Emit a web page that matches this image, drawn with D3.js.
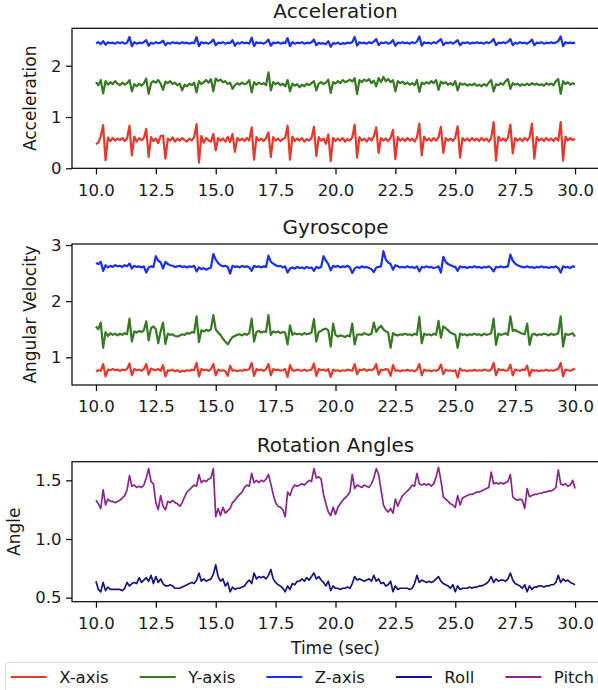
<!DOCTYPE html>
<html>
<head>
<meta charset="utf-8">
<script src="https://cdn.jsdelivr.net/npm/d3@7"></script>
<style>
body{margin:0;background:#fff;}
text{font-family:"DejaVu Sans",sans-serif;fill:#1a1a1a;}
</style>
</head>
<body>
<div id="chart"></div>
<script>
// sample times, 10 Hz from 10 s to 30 s
var time = d3.range(201).map(function(i){return 10 + i/10;});

var accelX = [
0.47,0.50,0.62,0.84,0.16,0.60,0.53,0.59,0.54,0.58,
0.55,0.59,0.53,0.58,0.83,0.25,0.62,0.52,0.59,0.55,
0.59,0.77,0.22,0.61,0.53,0.58,0.49,0.63,0.64,0.19,
0.58,0.54,0.60,0.52,0.58,0.54,0.59,0.55,0.52,0.58,
0.54,0.61,0.86,0.11,0.63,0.50,0.59,0.54,0.52,0.67,
0.35,0.59,0.54,0.58,0.52,0.61,0.51,0.67,0.32,0.59,
0.54,0.58,0.53,0.59,0.54,0.80,0.17,0.61,0.54,0.58,
0.53,0.59,0.70,0.22,0.61,0.54,0.58,0.53,0.57,0.59,
0.83,0.17,0.62,0.53,0.58,0.54,0.59,0.52,0.57,0.54,
0.59,0.81,0.24,0.61,0.54,0.58,0.48,0.66,0.14,0.59,
0.53,0.58,0.54,0.59,0.52,0.57,0.54,0.60,0.85,0.21,
0.61,0.54,0.58,0.52,0.59,0.54,0.62,0.80,0.30,0.59,
0.54,0.58,0.53,0.59,0.75,0.18,0.61,0.54,0.58,0.53,
0.59,0.54,0.58,0.52,0.60,0.87,0.25,0.62,0.54,0.58,
0.53,0.59,0.54,0.60,0.81,0.30,0.59,0.54,0.58,0.53,
0.60,0.82,0.21,0.59,0.54,0.58,0.53,0.59,0.54,0.58,
0.53,0.59,0.54,0.58,0.52,0.59,0.90,0.15,0.62,0.54,
0.58,0.53,0.60,0.85,0.29,0.59,0.54,0.58,0.53,0.59,
0.54,0.60,0.87,0.19,0.61,0.54,0.58,0.53,0.59,0.54,
0.58,0.53,0.59,0.54,0.90,0.15,0.62,0.54,0.59,0.55,
0.57];

var accelY = [
1.68,1.62,1.72,1.46,1.70,1.63,1.68,1.64,1.70,1.65,
1.62,1.67,1.63,1.66,1.72,1.50,1.64,1.60,1.65,1.61,
1.66,1.75,1.45,1.66,1.70,1.67,1.72,1.65,1.53,1.69,
1.66,1.70,1.64,1.67,1.62,1.65,1.52,1.63,1.60,1.65,
1.62,1.67,1.48,1.70,1.64,1.68,1.72,1.67,1.74,1.50,
1.75,1.70,1.73,1.68,1.70,1.64,1.67,1.55,1.62,1.66,
1.63,1.67,1.64,1.66,1.72,1.48,1.68,1.63,1.67,1.64,
1.66,1.62,1.87,1.52,1.68,1.64,1.67,1.62,1.65,1.60,
1.72,1.50,1.65,1.61,1.64,1.58,1.63,1.60,1.65,1.62,
1.66,1.70,1.52,1.65,1.68,1.64,1.67,1.73,1.47,1.68,
1.65,1.70,1.66,1.72,1.68,1.70,1.73,1.69,1.76,1.45,
1.72,1.68,1.73,1.70,1.74,1.66,1.71,1.60,1.76,1.68,
1.78,1.70,1.74,1.68,1.72,1.50,1.70,1.66,1.69,1.64,
1.67,1.63,1.66,1.62,1.72,1.49,1.67,1.64,1.68,1.65,
1.70,1.66,1.72,1.53,1.69,1.65,1.68,1.63,1.66,1.62,
1.70,1.52,1.66,1.63,1.65,1.61,1.64,1.62,1.65,1.61,
1.63,1.60,1.64,1.61,1.67,1.72,1.50,1.64,1.62,1.66,
1.63,1.70,1.74,1.55,1.66,1.63,1.65,1.61,1.64,1.62,
1.65,1.62,1.66,1.63,1.65,1.62,1.64,1.61,1.66,1.63,
1.65,1.62,1.70,1.74,1.45,1.70,1.64,1.68,1.63,1.66,
1.64];

var accelZ = [
2.44,2.46,2.42,2.48,2.41,2.46,2.44,2.45,2.43,2.46,
2.44,2.46,2.43,2.45,2.56,2.38,2.46,2.43,2.45,2.44,
2.46,2.50,2.39,2.45,2.43,2.46,2.44,2.45,2.49,2.40,
2.45,2.43,2.46,2.44,2.45,2.43,2.46,2.44,2.45,2.43,
2.45,2.44,2.56,2.38,2.46,2.44,2.45,2.43,2.46,2.51,
2.40,2.45,2.44,2.46,2.43,2.45,2.44,2.50,2.39,2.45,
2.43,2.46,2.44,2.45,2.43,2.55,2.38,2.46,2.44,2.45,
2.43,2.46,2.51,2.39,2.45,2.44,2.46,2.43,2.45,2.44,
2.54,2.38,2.46,2.43,2.45,2.44,2.46,2.43,2.45,2.44,
2.46,2.51,2.40,2.45,2.43,2.44,2.42,2.48,2.37,2.44,
2.43,2.45,2.42,2.44,2.43,2.45,2.44,2.46,2.56,2.39,
2.46,2.44,2.45,2.43,2.46,2.44,2.47,2.52,2.40,2.45,
2.44,2.46,2.43,2.45,2.50,2.39,2.45,2.44,2.46,2.44,
2.45,2.43,2.46,2.44,2.47,2.57,2.39,2.46,2.44,2.45,
2.43,2.46,2.44,2.48,2.52,2.40,2.45,2.44,2.46,2.43,
2.46,2.50,2.40,2.45,2.44,2.46,2.43,2.45,2.44,2.46,
2.44,2.45,2.43,2.46,2.44,2.47,2.52,2.40,2.45,2.44,
2.46,2.44,2.47,2.52,2.40,2.45,2.43,2.46,2.44,2.45,
2.43,2.46,2.51,2.40,2.45,2.44,2.46,2.43,2.45,2.44,
2.46,2.44,2.45,2.48,2.57,2.38,2.46,2.44,2.45,2.44,
2.45];

var gyroX = [
0.75,0.77,0.76,0.88,0.66,0.78,0.77,0.79,0.77,0.78,
0.76,0.78,0.77,0.79,0.89,0.68,0.79,0.77,0.78,0.76,
0.79,0.88,0.69,0.80,0.78,0.77,0.79,0.76,0.86,0.66,
0.77,0.76,0.78,0.75,0.77,0.74,0.76,0.75,0.77,0.76,
0.78,0.77,0.90,0.66,0.79,0.77,0.78,0.76,0.79,0.88,
0.68,0.78,0.76,0.77,0.75,0.67,0.85,0.76,0.77,0.75,
0.77,0.76,0.78,0.77,0.79,0.90,0.67,0.79,0.77,0.78,
0.76,0.79,0.88,0.68,0.79,0.77,0.78,0.76,0.77,0.79,
0.65,0.86,0.77,0.76,0.78,0.77,0.76,0.78,0.76,0.77,
0.78,0.89,0.67,0.79,0.77,0.78,0.76,0.79,0.65,0.78,
0.76,0.77,0.75,0.77,0.76,0.78,0.77,0.76,0.88,0.70,
0.78,0.77,0.79,0.76,0.78,0.77,0.79,0.88,0.69,0.78,
0.77,0.79,0.78,0.67,0.86,0.76,0.77,0.75,0.77,0.76,
0.78,0.76,0.77,0.75,0.78,0.88,0.68,0.78,0.76,0.77,
0.75,0.77,0.76,0.78,0.87,0.70,0.78,0.76,0.77,0.75,
0.77,0.64,0.80,0.76,0.77,0.75,0.77,0.76,0.78,0.76,
0.77,0.76,0.78,0.77,0.76,0.78,0.90,0.68,0.79,0.77,
0.78,0.76,0.77,0.87,0.68,0.78,0.77,0.76,0.78,0.77,
0.85,0.67,0.78,0.76,0.77,0.75,0.77,0.76,0.78,0.76,
0.77,0.76,0.78,0.79,0.90,0.66,0.78,0.77,0.76,0.78,
0.80];

var gyroY = [
1.55,1.50,1.62,1.17,1.45,1.38,1.43,1.40,1.42,1.39,
1.42,1.40,1.43,1.41,1.69,1.28,1.46,1.44,1.47,1.45,
1.48,1.64,1.30,1.52,1.55,1.50,1.25,1.46,1.62,1.24,
1.42,1.40,1.41,1.38,1.37,1.39,1.41,1.40,1.43,1.42,
1.45,1.44,1.73,1.27,1.48,1.46,1.49,1.47,1.50,1.75,
1.50,1.44,1.40,1.33,1.28,1.23,1.30,1.36,1.38,1.40,
1.41,1.39,1.42,1.40,1.43,1.69,1.28,1.45,1.47,1.44,
1.46,1.45,1.75,1.40,1.46,1.44,1.46,1.43,1.45,1.44,
1.23,1.57,1.40,1.43,1.41,1.42,1.40,1.43,1.41,1.42,
1.44,1.68,1.28,1.45,1.47,1.50,1.51,1.48,1.19,1.60,
1.40,1.37,1.39,1.38,1.36,1.39,1.37,1.60,1.23,1.40,
1.41,1.40,1.43,1.41,1.40,1.42,1.62,1.45,1.52,1.56,
1.50,1.46,1.44,1.17,1.43,1.40,1.39,1.41,1.40,1.42,
1.40,1.41,1.39,1.42,1.40,1.72,1.25,1.42,1.40,1.41,
1.39,1.42,1.40,1.65,1.35,1.55,1.52,1.48,1.44,1.42,
1.40,1.17,1.42,1.40,1.41,1.39,1.41,1.40,1.42,1.40,
1.41,1.39,1.42,1.40,1.41,1.43,1.69,1.22,1.42,1.40,
1.41,1.43,1.40,1.73,1.47,1.49,1.46,1.44,1.42,1.41,
1.60,1.22,1.40,1.42,1.39,1.41,1.40,1.42,1.41,1.39,
1.42,1.40,1.41,1.43,1.73,1.19,1.42,1.40,1.41,1.43,
1.37];

var gyroZ = [
2.68,2.66,2.70,2.54,2.64,2.60,2.63,2.61,2.64,2.62,
2.63,2.61,2.64,2.62,2.67,2.58,2.63,2.61,2.62,2.60,
2.62,2.51,2.60,2.62,2.61,2.80,2.72,2.69,2.58,2.70,
2.66,2.64,2.63,2.61,2.62,2.63,2.61,2.62,2.60,2.62,
2.61,2.63,2.53,2.60,2.57,2.59,2.56,2.58,2.60,2.84,
2.74,2.68,2.64,2.62,2.63,2.61,2.49,2.63,2.61,2.62,
2.60,2.63,2.61,2.62,2.60,2.54,2.63,2.61,2.62,2.60,
2.62,2.61,2.81,2.70,2.67,2.64,2.62,2.63,2.60,2.62,
2.51,2.58,2.60,2.58,2.61,2.59,2.60,2.58,2.61,2.59,
2.60,2.54,2.61,2.59,2.61,2.80,2.72,2.66,2.55,2.63,
2.61,2.63,2.60,2.62,2.61,2.63,2.60,2.50,2.58,2.61,
2.59,2.62,2.60,2.61,2.59,2.57,2.52,2.60,2.61,2.62,
2.89,2.74,2.69,2.66,2.56,2.64,2.62,2.60,2.61,2.60,
2.62,2.60,2.61,2.59,2.62,2.53,2.61,2.60,2.62,2.60,
2.61,2.59,2.60,2.62,2.51,2.79,2.70,2.66,2.64,2.62,
2.61,2.54,2.62,2.60,2.61,2.59,2.61,2.60,2.62,2.60,
2.61,2.59,2.61,2.60,2.62,2.59,2.53,2.61,2.60,2.62,
2.60,2.61,2.62,2.83,2.72,2.67,2.64,2.62,2.61,2.60,
2.62,2.60,2.61,2.59,2.61,2.60,2.62,2.60,2.61,2.59,
2.61,2.60,2.62,2.59,2.51,2.62,2.60,2.61,2.59,2.62,
2.61];

var roll = [
0.64,0.57,0.55,0.63,0.56,0.59,0.57,0.57,0.57,0.57,
0.57,0.56,0.58,0.63,0.60,0.62,0.63,0.62,0.67,0.63,
0.65,0.67,0.64,0.69,0.62,0.68,0.63,0.66,0.62,0.60,
0.60,0.61,0.60,0.58,0.58,0.58,0.59,0.60,0.61,0.62,
0.63,0.62,0.65,0.71,0.64,0.66,0.64,0.65,0.66,0.70,
0.78,0.68,0.64,0.66,0.60,0.63,0.55,0.59,0.57,0.58,
0.58,0.59,0.60,0.63,0.65,0.62,0.71,0.66,0.68,0.67,
0.68,0.66,0.69,0.74,0.66,0.63,0.61,0.60,0.58,0.55,
0.60,0.57,0.62,0.61,0.64,0.64,0.66,0.64,0.67,0.65,
0.68,0.71,0.66,0.68,0.65,0.63,0.60,0.64,0.56,0.60,
0.58,0.58,0.57,0.58,0.58,0.59,0.58,0.62,0.68,0.65,
0.66,0.65,0.64,0.65,0.66,0.64,0.69,0.64,0.66,0.62,
0.63,0.60,0.61,0.64,0.55,0.60,0.57,0.58,0.58,0.58,
0.58,0.57,0.58,0.62,0.69,0.63,0.65,0.64,0.63,0.64,
0.63,0.64,0.66,0.68,0.64,0.62,0.61,0.60,0.58,0.61,
0.55,0.60,0.57,0.58,0.58,0.58,0.59,0.58,0.59,0.59,
0.60,0.60,0.61,0.62,0.64,0.68,0.63,0.66,0.64,0.65,
0.65,0.64,0.66,0.71,0.65,0.62,0.61,0.60,0.58,0.61,
0.55,0.60,0.57,0.59,0.59,0.60,0.60,0.59,0.60,0.60,
0.61,0.61,0.63,0.69,0.63,0.66,0.64,0.65,0.63,0.62,
0.61];

var pitch = [
1.33,1.30,1.26,1.42,1.29,1.34,1.32,1.32,1.31,1.32,
1.33,1.35,1.37,1.42,1.54,1.45,1.46,1.44,1.45,1.44,
1.46,1.52,1.60,1.49,1.47,1.31,1.25,1.37,1.28,1.25,
1.32,1.31,1.33,1.31,1.30,1.28,1.31,1.36,1.40,1.42,
1.44,1.46,1.45,1.55,1.48,1.50,1.49,1.51,1.52,1.60,
1.19,1.26,1.20,1.27,1.22,1.24,1.26,1.31,1.33,1.36,
1.38,1.40,1.44,1.46,1.45,1.56,1.48,1.50,1.48,1.50,
1.49,1.51,1.55,1.47,1.38,1.31,1.28,1.27,1.25,1.19,
1.40,1.37,1.43,1.46,1.45,1.46,1.47,1.46,1.48,1.50,
1.49,1.60,1.52,1.53,1.51,1.38,1.30,1.23,1.20,1.27,
1.21,1.27,1.30,1.33,1.35,1.37,1.40,1.55,1.43,1.46,
1.45,1.44,1.46,1.45,1.44,1.47,1.52,1.60,1.55,1.42,
1.29,1.25,1.23,1.26,1.22,1.34,1.28,1.33,1.37,1.39,
1.41,1.43,1.46,1.45,1.56,1.47,1.46,1.47,1.46,1.47,
1.45,1.47,1.53,1.61,1.50,1.36,1.34,1.32,1.30,1.29,
1.27,1.37,1.29,1.35,1.36,1.37,1.38,1.38,1.39,1.40,
1.40,1.41,1.42,1.43,1.44,1.57,1.47,1.48,1.47,1.48,
1.47,1.48,1.49,1.55,1.36,1.34,1.33,1.34,1.33,1.26,
1.43,1.36,1.37,1.38,1.38,1.39,1.39,1.40,1.40,1.41,
1.41,1.42,1.44,1.59,1.47,1.46,1.47,1.45,1.46,1.50,
1.43];

var xTicks = [10, 12.5, 15, 17.5, 20, 22.5, 25, 27.5, 30];
var legendNames = ["X-axis", "Y-axis", "Z-axis", "Roll", "Pitch"];
var colors = {x:"#e8372b", y:"#357a22", z:"#1a2ff5", roll:"#15157f", pitch:"#8a2590"};

var W = 598, H = 690;
var svg = d3.select("#chart").append("svg").attr("width", W).attr("height", H);

var x = d3.scaleLinear().domain([9, 31]).range([72, 599]);

function panel(top, bottom, domain, yTicks, yFmt, title, ylabel, series, lw){
    var y = d3.scaleLinear().domain(domain).range([bottom, top]);
    var g = svg.append("g");

    var line = d3.line().x(function(d){return x(d[0]);}).y(function(d){return y(d[1]);});
    series.forEach(function(s){
        g.append("path")
            .datum(d3.zip(time, s.values))
            .attr("d", line)
            .attr("fill", "none")
            .attr("stroke", s.color)
            .attr("stroke-width", lw)
            .attr("stroke-linejoin", "round");
    });

    g.append("rect")
        .attr("x", 72).attr("y", top)
        .attr("width", 599 - 72).attr("height", bottom - top)
        .attr("fill", "none").attr("stroke", "#000").attr("stroke-width", 1.2);

    var xa = g.append("g").attr("transform", "translate(0," + bottom + ")")
        .call(d3.axisBottom(x).tickValues(xTicks).tickFormat(d3.format(".1f")).tickSize(6).tickSizeOuter(0).tickPadding(9.5));
    var ya = g.append("g").attr("transform", "translate(72,0)")
        .call(d3.axisLeft(y).tickValues(yTicks).tickFormat(yFmt).tickSize(6).tickSizeOuter(0).tickPadding(4.5));
    [xa, ya].forEach(function(a){
        a.select(".domain").remove();
        a.selectAll(".tick line").attr("stroke", "#000").attr("stroke-width", 1.2);
        a.selectAll("text").attr("font-size", "16.5px").attr("font-family", "DejaVu Sans").attr("fill", "#1a1a1a");
    });

    var tickLeft = d3.min(ya.selectAll("text").nodes(), function(n){return n.getBBox().x;}) + 72;

    g.append("text")
        .attr("x", (72 + 599) / 2).attr("y", top - 10)
        .attr("text-anchor", "middle").attr("font-size", "20px")
        .text(title);

    g.append("text")
        .attr("transform", "translate(" + (tickLeft - 15) + "," + ((top + bottom) / 2) + ") rotate(-90)")
        .attr("text-anchor", "middle").attr("font-size", "17px")
        .text(ylabel);
}

panel(28.3, 168.3, [0, 2.73], [0, 1, 2], d3.format("d"), "Acceleration", "Acceleration", [
    {values: accelX, color: colors.x},
    {values: accelY, color: colors.y},
    {values: accelZ, color: colors.z}
], 2.2);

panel(244, 385, [0.507, 3.018], [1, 2, 3], d3.format("d"), "Gyroscope", "Angular Velocity", [
    {values: gyroX, color: colors.x},
    {values: gyroY, color: colors.y},
    {values: gyroZ, color: colors.z}
], 2.2);

panel(461.7, 601.7, [0.4655, 1.659], [0.5, 1.0, 1.5], d3.format(".1f"), "Rotation Angles", "Angle", [
    {values: roll, color: colors.roll},
    {values: pitch, color: colors.pitch}
], 1.7);

svg.append("text")
    .attr("x", (72 + 599) / 2).attr("y", 654)
    .attr("text-anchor", "middle").attr("font-size", "17px")
    .text("Time (sec)");

// legend along the bottom
var legColors = [colors.x, colors.y, colors.z, colors.roll, colors.pitch];
var leg = svg.append("g");
leg.append("rect")
    .attr("x", 5.5).attr("y", 662.5).attr("width", 640).attr("height", 40).attr("rx", 3)
    .attr("fill", "#fff").attr("stroke", "#d9d9d9");
var lx = 10.7;
legendNames.forEach(function(name, i){
    leg.append("line")
        .attr("x1", lx).attr("x2", lx + 36).attr("y1", 677).attr("y2", 677)
        .attr("stroke", legColors[i]).attr("stroke-width", 2);
    var t = leg.append("text")
        .attr("x", lx + 48.5).attr("y", 683)
        .attr("font-size", "16.5px")
        .text(name);
    lx = lx + 48.5 + t.node().getComputedTextLength() + 31;
});
</script>
</body>
</html>
